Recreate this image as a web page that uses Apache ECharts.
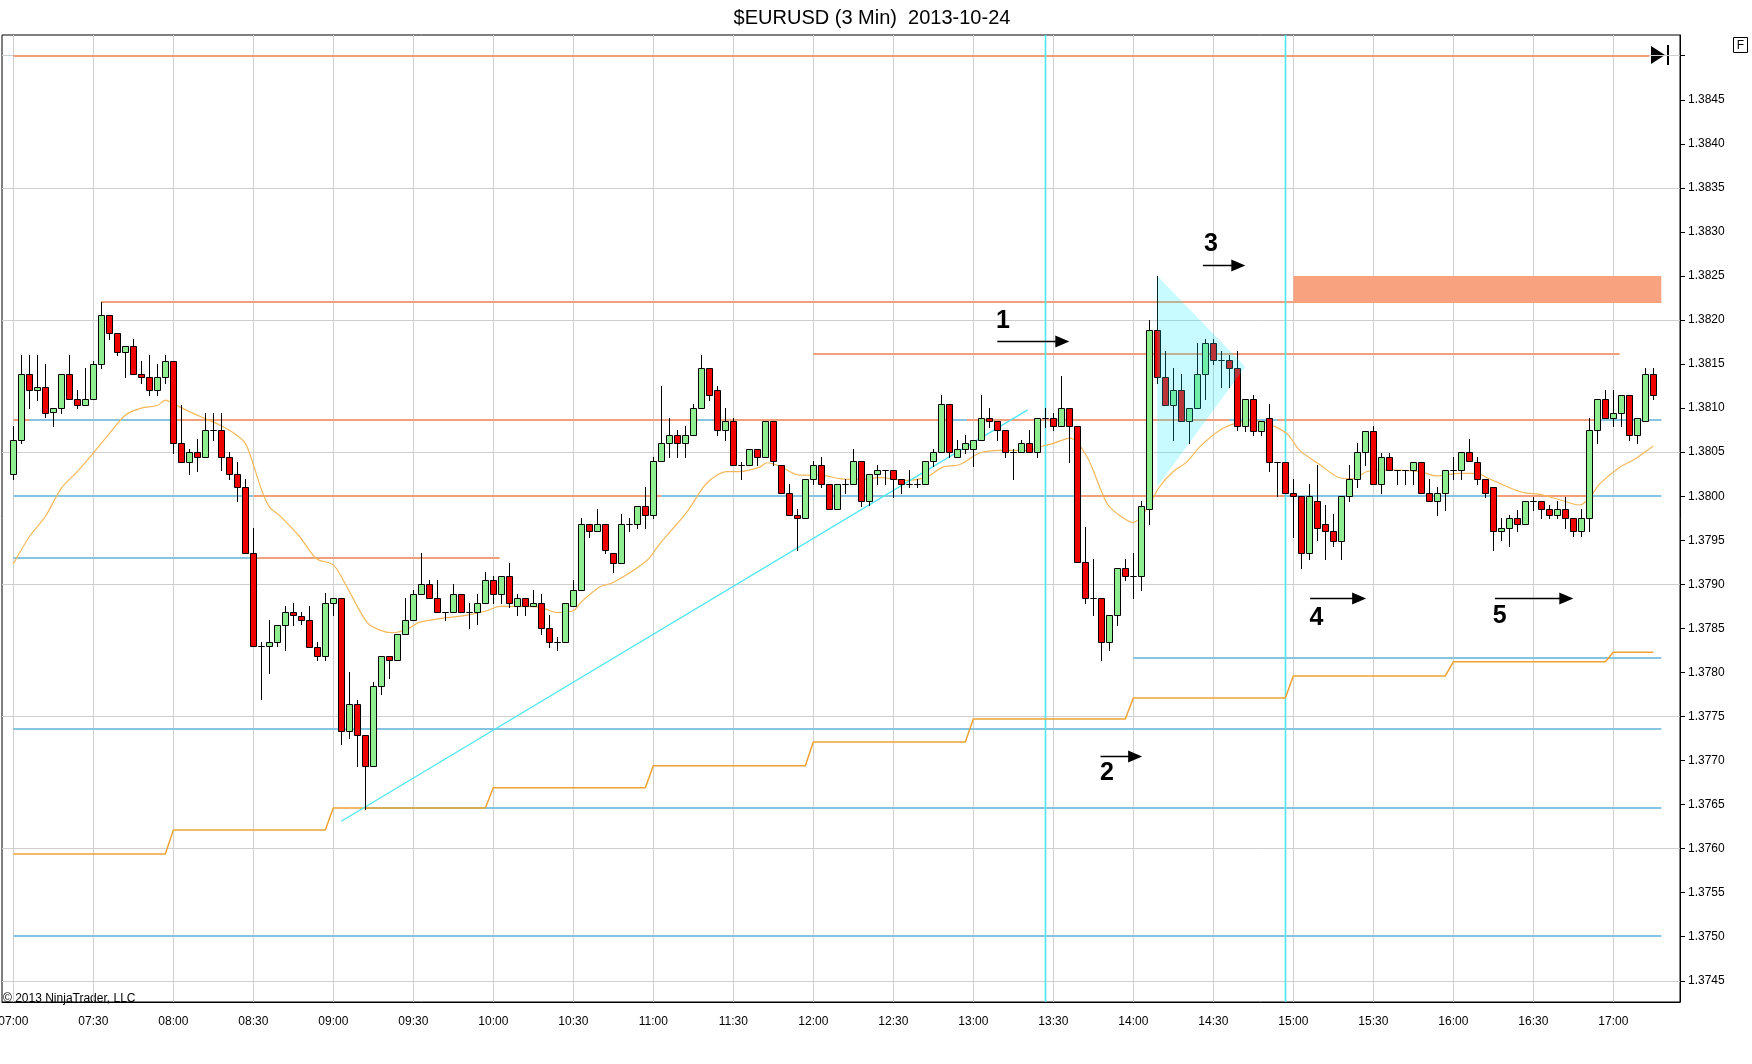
<!DOCTYPE html>
<html><head><meta charset="utf-8">
<script src="https://cdn.jsdelivr.net/npm/echarts@6/dist/echarts.min.js"></script>
<style>html,body{margin:0;padding:0;background:#fff}#main{width:1752px;height:1064px}</style>
</head><body><div id="main"></div>
<script>
// ---------------- data ----------------
const timeLabels = ['07:00','07:30','08:00','08:30','09:00','09:30','10:00','10:30','11:00','11:30','12:00','12:30','13:00','13:30','14:00','14:30','15:00','15:30','16:00','16:30','17:00'];
const gridBars = [0,10,20,30,40,50,60,70,80,90,100,110,120,130,140,150,160,170,180,190,200];
const priceTicks = [1.3745,1.3750,1.3755,1.3760,1.3765,1.3770,1.3775,1.3780,1.3785,1.3790,1.3795,1.3800,1.3805,1.3810,1.3815,1.3820,1.3825,1.3830,1.3835,1.3840,1.3845,1.3850];
const priceLabels = [1.3745,1.3750,1.3755,1.3760,1.3765,1.3770,1.3775,1.3780,1.3785,1.3790,1.3795,1.3800,1.3805,1.3810,1.3815,1.3820,1.3825,1.3830,1.3835,1.3840,1.3845];
const priceGrid = [1.3745,1.3760,1.3775,1.3790,1.3805,1.3820,1.3835,1.3850];

const opens = [
1.38025,1.38064,1.38139,1.38120,1.38124,1.38096,1.38100,1.38139,1.38110,1.38104,
1.38110,1.38150,1.38206,1.38185,1.38164,1.38170,1.38139,1.38135,1.38120,1.38135,
1.38154,1.38060,1.38039,1.38050,1.38045,1.38075,1.38075,1.38045,1.38025,1.38010,
1.37935,1.37830,1.37830,1.37835,1.37854,1.37869,1.37864,1.37860,1.37829,1.37819,
1.37879,1.37885,1.37734,1.37764,1.37729,1.37694,1.37785,1.37819,1.37814,1.37844,
1.37860,1.37889,1.37900,1.37885,1.37869,1.37869,1.37889,1.37869,1.37869,1.37879,
1.37905,1.37889,1.37910,1.37875,1.37885,1.37875,1.37879,1.37850,1.37835,1.37835,
1.37875,1.37894,1.37969,1.37960,1.37969,1.37935,1.37924,1.37969,1.37969,1.37989,
1.37979,1.38040,1.38060,1.38070,1.38060,1.38070,1.38100,1.38145,1.38120,1.38075,
1.38085,1.38035,1.38035,1.38054,1.38045,1.38085,1.38035,1.38004,1.37979,1.37975,
1.38020,1.38035,1.38014,1.37985,1.38014,1.38014,1.38040,1.37995,1.38025,1.38030,
1.38030,1.38020,1.38014,1.38014,1.38014,1.38040,1.38050,1.38105,1.38045,1.38054,
1.38054,1.38064,1.38089,1.38085,1.38075,1.38050,1.38050,1.38060,1.38050,1.38089,
1.38089,1.38080,1.38100,1.38080,1.37925,1.37885,1.37885,1.37835,1.37865,1.37919,
1.37910,1.37910,1.37985,1.38189,1.38135,1.38104,1.38120,1.38085,1.38100,1.38139,
1.38174,1.38155,1.38155,1.38145,1.38080,1.38110,1.38074,1.38089,1.38039,1.38039,
1.38004,1.38000,1.37935,1.37995,1.37969,1.37960,1.37949,1.38000,1.38020,1.38050,
1.38074,1.38014,1.38045,1.38030,1.38030,1.38030,1.38039,1.38004,1.37995,1.38004,
1.38030,1.38030,1.38050,1.38039,1.38020,1.38010,1.37960,1.37964,1.37975,1.37969,
1.37995,1.37995,1.37985,1.37979,1.37985,1.37975,1.37960,1.37975,1.38075,1.38110,
1.38089,1.38095,1.38115,1.38070,1.38085,1.38139];
const highs = [
1.38080,1.38160,1.38160,1.38160,1.38150,1.38100,1.38139,1.38160,1.38120,1.38145,
1.38154,1.38221,1.38206,1.38185,1.38170,1.38179,1.38154,1.38160,1.38150,1.38160,
1.38154,1.38104,1.38054,1.38065,1.38095,1.38095,1.38095,1.38050,1.38039,1.38020,
1.37964,1.37835,1.37860,1.37854,1.37875,1.37879,1.37869,1.37875,1.37835,1.37890,
1.37885,1.37885,1.37800,1.37769,1.37729,1.37789,1.37819,1.37819,1.37844,1.37885,
1.37894,1.37935,1.37905,1.37905,1.37869,1.37900,1.37889,1.37879,1.37889,1.37914,
1.37910,1.37910,1.37924,1.37889,1.37885,1.37894,1.37889,1.37865,1.37840,1.37879,
1.37905,1.37975,1.37969,1.37985,1.37969,1.37935,1.37980,1.37975,1.37989,1.38011,
1.38045,1.38125,1.38089,1.38075,1.38080,1.38105,1.38160,1.38145,1.38125,1.38100,
1.38089,1.38039,1.38054,1.38054,1.38085,1.38085,1.38035,1.38014,1.37985,1.38020,
1.38040,1.38045,1.38014,1.38014,1.38020,1.38054,1.38040,1.38025,1.38035,1.38030,
1.38030,1.38020,1.38030,1.38020,1.38040,1.38054,1.38115,1.38105,1.38064,1.38070,
1.38064,1.38115,1.38100,1.38085,1.38075,1.38054,1.38064,1.38075,1.38089,1.38100,
1.38095,1.38136,1.38100,1.38080,1.37965,1.37929,1.37885,1.37865,1.37919,1.37929,
1.37935,1.37995,1.38200,1.38250,1.38165,1.38145,1.38139,1.38100,1.38174,1.38179,
1.38179,1.38165,1.38160,1.38165,1.38110,1.38115,1.38085,1.38105,1.38039,1.38039,
1.38020,1.38000,1.38014,1.38035,1.37990,1.37980,1.38000,1.38035,1.38060,1.38074,
1.38080,1.38049,1.38049,1.38030,1.38030,1.38039,1.38039,1.38020,1.38011,1.38030,
1.38045,1.38050,1.38065,1.38045,1.38020,1.38010,1.37975,1.37979,1.37984,1.37995,
1.37999,1.37995,1.37990,1.37995,1.37999,1.37975,1.37985,1.38089,1.38110,1.38120,
1.38120,1.38115,1.38115,1.38089,1.38145,1.38145];
const lows = [
1.38020,1.38060,1.38100,1.38109,1.38090,1.38080,1.38095,1.38110,1.38100,1.38104,
1.38110,1.38145,1.38179,1.38160,1.38135,1.38139,1.38129,1.38115,1.38115,1.38129,
1.38049,1.38039,1.38025,1.38029,1.38045,1.38064,1.38030,1.38020,1.37995,1.37935,
1.37830,1.37770,1.37799,1.37830,1.37825,1.37854,1.37855,1.37829,1.37814,1.37814,
1.37865,1.37719,1.37725,1.37694,1.37645,1.37694,1.37775,1.37794,1.37814,1.37844,
1.37860,1.37889,1.37885,1.37869,1.37860,1.37869,1.37869,1.37850,1.37855,1.37879,
1.37879,1.37879,1.37874,1.37865,1.37865,1.37875,1.37844,1.37829,1.37825,1.37835,
1.37875,1.37894,1.37954,1.37960,1.37935,1.37914,1.37924,1.37960,1.37964,1.37964,
1.37975,1.38040,1.38045,1.38045,1.38045,1.38070,1.38100,1.38109,1.38070,1.38064,
1.38035,1.38020,1.38035,1.38035,1.38045,1.38035,1.38004,1.37979,1.37939,1.37975,
1.38014,1.38010,1.37985,1.37985,1.38004,1.38014,1.37989,1.37990,1.38014,1.38014,
1.37999,1.38004,1.38011,1.38011,1.38014,1.38034,1.38050,1.38045,1.38045,1.38049,
1.38034,1.38064,1.38079,1.38064,1.38045,1.38020,1.38050,1.38050,1.38045,1.38079,
1.38075,1.38080,1.38039,1.37925,1.37879,1.37865,1.37814,1.37825,1.37854,1.37905,
1.37885,1.37893,1.37969,1.38129,1.38104,1.38064,1.38085,1.38060,1.38100,1.38110,
1.38150,1.38124,1.38124,1.38075,1.38074,1.38069,1.38069,1.38029,1.38000,1.38004,
1.37954,1.37919,1.37929,1.37950,1.37929,1.37944,1.37929,1.37995,1.38010,1.38035,
1.38014,1.38004,1.38030,1.38014,1.38014,1.38014,1.38004,1.37995,1.37979,1.37984,
1.38020,1.38020,1.38040,1.38014,1.37999,1.37939,1.37950,1.37944,1.37960,1.37969,
1.37984,1.37975,1.37975,1.37975,1.37964,1.37955,1.37955,1.37960,1.38060,1.38089,
1.38080,1.38080,1.38064,1.38060,1.38085,1.38110];
const closes = [
1.38064,1.38139,1.38120,1.38124,1.38095,1.38100,1.38139,1.38110,1.38104,1.38110,
1.38150,1.38206,1.38185,1.38164,1.38170,1.38139,1.38135,1.38120,1.38135,1.38154,
1.38060,1.38039,1.38050,1.38045,1.38075,1.38075,1.38045,1.38025,1.38010,1.37935,
1.37830,1.37830,1.37835,1.37854,1.37869,1.37865,1.37860,1.37829,1.37819,1.37879,
1.37885,1.37734,1.37764,1.37729,1.37694,1.37785,1.37819,1.37814,1.37844,1.37860,
1.37889,1.37900,1.37885,1.37869,1.37869,1.37889,1.37869,1.37869,1.37879,1.37905,
1.37889,1.37910,1.37879,1.37885,1.37875,1.37879,1.37850,1.37835,1.37835,1.37879,
1.37894,1.37969,1.37960,1.37969,1.37939,1.37924,1.37969,1.37969,1.37989,1.37979,
1.38040,1.38060,1.38070,1.38060,1.38070,1.38100,1.38145,1.38115,1.38075,1.38085,
1.38035,1.38035,1.38054,1.38045,1.38085,1.38040,1.38004,1.37979,1.37975,1.38020,
1.38035,1.38014,1.37985,1.38014,1.38014,1.38040,1.37995,1.38025,1.38030,1.38030,
1.38020,1.38014,1.38014,1.38014,1.38040,1.38050,1.38105,1.38050,1.38054,1.38060,
1.38064,1.38089,1.38085,1.38075,1.38050,1.38050,1.38060,1.38050,1.38089,1.38089,
1.38080,1.38100,1.38080,1.37925,1.37885,1.37885,1.37835,1.37865,1.37919,1.37910,
1.37910,1.37989,1.38189,1.38135,1.38104,1.38120,1.38085,1.38100,1.38139,1.38174,
1.38155,1.38155,1.38145,1.38080,1.38110,1.38074,1.38085,1.38039,1.38039,1.38004,
1.38000,1.37935,1.38000,1.37964,1.37960,1.37949,1.38000,1.38020,1.38050,1.38074,
1.38014,1.38045,1.38030,1.38030,1.38030,1.38039,1.38004,1.37995,1.38004,1.38030,
1.38030,1.38050,1.38040,1.38020,1.38004,1.37960,1.37964,1.37975,1.37969,1.37995,
1.37995,1.37985,1.37979,1.37985,1.37975,1.37960,1.37975,1.38075,1.38110,1.38089,
1.38095,1.38115,1.38070,1.38089,1.38139,1.38115];

// moving average: [bar, price]
const maPoints = [[0,1.37923],[2,1.37954],[4,1.37977],[6,1.38009],[8,1.38028],[10,1.38049],[12,1.38071],[14,1.38092],[16,1.38100],[18,1.38103],[19,1.38109],[20,1.38105],[22,1.38096],[24,1.38088],[26,1.38080],[27.5,1.38072],[29,1.38060],[30,1.38036],[31,1.38008],[32,1.37988],[33.3,1.37978],[35.8,1.37954],[37.9,1.37929],[40,1.37922],[41.7,1.37897],[44.2,1.37857],[45.8,1.37848],[47.5,1.37845],[49.2,1.37849],[50.8,1.37857],[53.3,1.37861],[56.7,1.37865],[59.2,1.37870],[60.8,1.37875],[63.3,1.37875],[65.8,1.37874],[68,1.37868],[70,1.37870],[71,1.37880],[73.3,1.37897],[75,1.37902],[79.2,1.37927],[80.8,1.37946],[84.2,1.37982],[86.7,1.38015],[89.2,1.38028],[90.8,1.38028],[93.3,1.38033],[94.2,1.38038],[95.8,1.38034],[98.3,1.38024],[100.8,1.38024],[103.3,1.38020],[105.8,1.38019],[108.3,1.38021],[111.7,1.38018],[114.2,1.38022],[116.2,1.38033],[118.3,1.38036],[120.8,1.38049],[123.3,1.38052],[126.7,1.38052],[128.3,1.38056],[130,1.38060],[132.1,1.38066],[134.2,1.38045],[136.7,1.37992],[138.3,1.37978],[140,1.37970],[141.7,1.37986],[143.3,1.38011],[145,1.38028],[146.7,1.38039],[148.3,1.38056],[150.8,1.38075],[152.9,1.38083],[155,1.38086],[156.7,1.38083],[159.2,1.38071],[160.8,1.38052],[163.3,1.38036],[165.8,1.38021],[167.5,1.38020],[169.2,1.38028],[171.7,1.38030],[175.8,1.38028],[177.9,1.38023],[180.8,1.38026],[182.9,1.38026],[184.2,1.38021],[186.7,1.38011],[188.8,1.38004],[190.8,1.38002],[193.3,1.37996],[195.8,1.37990],[197.1,1.37999],[198.3,1.38014],[200.8,1.38033],[202.5,1.38041],[205,1.38057]];

// hourly stepped level (07:00 .. 17:00)
const hourlySteps = [1.37594,1.37621,1.37646,1.37669,1.37694,1.37721,1.37747,1.37771,1.37796,1.37812,1.37823];

// horizontal levels: [fromBar, toBar, price]
const orangeLevels = [[0,204.5,1.3850],[11,206,1.38221],[100,200.8,1.38161],[0,206,1.38087],[30,81,1.38000],[133,159,1.38000],[185.5,197,1.38000],[30,60.8,1.37930]];
const blueLevels = [[2,19.6,1.38087],[85.6,87.5,1.38087],[117.3,119.2,1.38087],[152,158,1.38087],[197.6,206,1.38087],[0,30,1.38000],[81,133,1.38000],[159,185.5,1.38000],[197,206,1.38000],[0,30,1.37930],[140,206,1.37816],[0,206,1.37736],[44,206,1.37646],[0,206,1.37501]];

const zoneRect = [[160,206,1.3822,1.3825]];
const trendLine = [[41,1.37631],[126.8,1.38098]];
const cyanVerticals = [[129],[159]];
const triangle = [[143,1.3825],[154,1.38147],[143,1.38011]];
const arrows = [[123.0,132.0,1.38176],[135.9,141.1,1.37705],[148.7,154.0,1.38263],[162.1,169.1,1.37884],[185.2,195.0,1.37885]];
const markerPos = [[123.7,1.38199],[136.7,1.37686],[149.7,1.38286],[162.9,1.37862],[185.8,1.37864]];
const markerText = ['1','2','3','4','5'];

// ---------------- chart ----------------
const X_MIN = -1.4125, X_MAX = 208.3375;
const Y_MIN = 1.374259, Y_MAX = 1.385235;
const FONT = 'Liberation Sans, Arial, sans-serif';
const GREEN = '#90EE90', RED = '#F00000';
const ORANGE = '#F2A07C', BLUE = '#86C4E0', CYAN = '#4EE6F0';

const candleData = opens.map((o, i) => [i, o, closes[i], lows[i], highs[i]]);

const stepPoints = [];
hourlySteps.forEach((v, k) => {
  const s = k * 20, e = Math.min(s + 19, 205);
  stepPoints.push([s, v], [e, v]);
});

function levelSeries(data, color, z) {
  return {
    type: 'custom', coordinateSystem: 'cartesian2d', xAxisIndex: 0, yAxisIndex: 0,
    silent: true, z: z, data: data, clip: true,
    renderItem: function (params, api) {
      const a = api.coord([api.value(0), api.value(2)]);
      const b = api.coord([api.value(1), api.value(2)]);
      const y = Math.round(a[1]);
      return { type: 'line', shape: { x1: a[0], y1: y, x2: b[0], y2: y }, style: { stroke: color, lineWidth: 2 } };
    }
  };
}

const chart = echarts.init(document.getElementById('main'));
chart.setOption({
  animation: false,
  backgroundColor: '#fff',
  title: {
    text: '$EURUSD (3 Min)  2013-10-24', left: 867, top: 3, textAlign: 'center',
    textStyle: { fontFamily: FONT, fontSize: 20, fontWeight: 'normal', color: '#000' }
  },
  grid: { left: 2, right: 72, top: 35, bottom: 62, show: true, borderColor: '#000', borderWidth: 1,
          outerBoundsMode: 'none', containLabel: false },
  xAxis: {
    type: 'value', min: X_MIN, max: X_MAX,
    axisLine: { show: true, onZero: false, lineStyle: { color: '#000', width: 1 } },
    axisTick: { show: false, customValues: gridBars },
    axisLabel: {
      customValues: gridBars, margin: 14, color: '#000', fontFamily: FONT, fontSize: 12,
      formatter: function (v) { return timeLabels[Math.round(v / 10)]; }
    },
    splitLine: { show: true, lineStyle: { color: '#CFCFCF', width: 1 } }
  },
  yAxis: [{
    type: 'value', position: 'right', min: Y_MIN, max: Y_MAX,
    axisLine: { show: true, onZero: false, lineStyle: { color: '#000', width: 1 } },
    axisTick: { show: true, inside: false, length: 5, customValues: priceTicks, lineStyle: { color: '#000' } },
    axisLabel: {
      customValues: priceLabels, margin: 8, color: '#000', fontFamily: FONT, fontSize: 12,
      formatter: function (v) { return v.toFixed(4); }
    },
    splitLine: { show: false }
  }, {
    type: 'value', position: 'left', min: Y_MIN, max: Y_MAX,
    axisLine: { show: false, onZero: false }, axisLabel: { show: false },
    axisTick: { show: false, customValues: priceGrid },
    splitLine: { show: true, lineStyle: { color: '#CFCFCF', width: 1 } }
  }],
  graphic: [
    { type: 'text', left: 3, top: 993, style: { text: '\u00A9 2013 NinjaTrader, LLC', font: '12px ' + FONT, fill: '#000' } },
    { type: 'rect', shape: { x: 1733.5, y: 37.5, width: 14, height: 15 }, style: { fill: '#fff', stroke: '#000', lineWidth: 1 } },
    { type: 'text', x: 1740.5, y: 45.5, style: { text: 'F', font: '12px ' + FONT, fill: '#000', align: 'center', verticalAlign: 'middle' } },
    { type: 'polygon', shape: { points: [[1651, 46], [1665, 55], [1651, 64]] }, style: { fill: '#000' } },
    { type: 'rect', shape: { x: 1667, y: 45, width: 2, height: 20 }, style: { fill: '#000' } }
  ],
  series: [
    levelSeries(orangeLevels, ORANGE, 1),
    levelSeries(blueLevels, BLUE, 1),
    {
      type: 'custom', coordinateSystem: 'cartesian2d', yAxisIndex: 0, silent: true, z: 1, data: zoneRect,
      renderItem: function (params, api) {
        const a = api.coord([api.value(0), api.value(3)]);
        const b = api.coord([api.value(1), api.value(2)]);
        return { type: 'rect', shape: { x: a[0], y: a[1], width: b[0] - a[0], height: b[1] - a[1] }, style: { fill: '#F9A27F' } };
      }
    },
    {
      type: 'custom', coordinateSystem: 'cartesian2d', yAxisIndex: 0, silent: true, z: 2, data: cyanVerticals,
      renderItem: function (params, api) {
        const p = api.coord([api.value(0), Y_MIN]);
        const cs = params.coordSys;
        const x = Math.round(p[0]) + 0.5;
        return { type: 'line', shape: { x1: x, y1: cs.y, x2: x, y2: cs.y + cs.height }, style: { stroke: CYAN, lineWidth: 1.6 } };
      }
    },
    {
      type: 'line', yAxisIndex: 0, data: stepPoints, symbol: 'none', silent: true, z: 2,
      lineStyle: { color: '#EFA232', width: 1.5 }
    },
    {
      type: 'line', yAxisIndex: 0, data: maPoints, symbol: 'none', silent: true, z: 3, smooth: 0.3,
      lineStyle: { color: '#F4B85A', width: 1.2 }
    },
    {
      type: 'line', yAxisIndex: 0, data: trendLine, symbol: 'none', silent: true, z: 3,
      lineStyle: { color: CYAN, width: 1.3 }
    },
    {
      type: 'custom', coordinateSystem: 'cartesian2d', yAxisIndex: 0, silent: true, z: 4, data: candleData, clip: true,
      renderItem: function (params, api) {
        const x = api.value(0), o = api.value(1), c = api.value(2), l = api.value(3), h = api.value(4);
        const pO = api.coord([x, o]), pC = api.coord([x, c]), pL = api.coord([x, l]), pH = api.coord([x, h]);
        const px = Math.round(pO[0]);
        const top = Math.round(Math.min(pO[1], pC[1])) + 0.5;
        const bot = Math.round(Math.max(pO[1], pC[1])) + 0.5;
        const fill = c > o ? GREEN : (c < o ? RED : '#000');
        return {
          type: 'group', children: [
            { type: 'line', shape: { x1: px + 0.5, y1: Math.round(pH[1]), x2: px + 0.5, y2: Math.round(pL[1]) + 1 }, style: { stroke: '#000', lineWidth: 1 } },
            { type: 'rect', shape: { x: px - 2.5, y: top, width: 6, height: bot - top }, style: { fill: fill, stroke: '#000', lineWidth: 1 } }
          ]
        };
      }
    },
    {
      type: 'custom', coordinateSystem: 'cartesian2d', yAxisIndex: 0, silent: true, z: 5, data: [[0]],
      renderItem: function (params, api) {
        const pts = triangle.map(function (t) { return api.coord(t); });
        return { type: 'polygon', shape: { points: pts }, style: { fill: 'rgba(0,235,255,0.22)' } };
      }
    },
    {
      type: 'custom', coordinateSystem: 'cartesian2d', yAxisIndex: 0, silent: true, z: 6, data: arrows,
      renderItem: function (params, api) {
        const a = api.coord([api.value(0), api.value(2)]);
        const b = api.coord([api.value(1), api.value(2)]);
        const y = Math.round(a[1]) + 0.5;
        return {
          type: 'group', children: [
            { type: 'line', shape: { x1: a[0], y1: y, x2: b[0] - 10, y2: y }, style: { stroke: '#000', lineWidth: 1.5 } },
            { type: 'polygon', shape: { points: [[b[0] - 14, y - 6], [b[0], y], [b[0] - 14, y + 6]] }, style: { fill: '#000' } }
          ]
        };
      }
    },
    {
      type: 'custom', coordinateSystem: 'cartesian2d', yAxisIndex: 0, silent: true, z: 6, data: markerPos,
      renderItem: function (params, api) {
        const p = api.coord([api.value(0), api.value(1)]);
        return {
          type: 'text', x: p[0], y: p[1],
          style: { text: markerText[params.dataIndex], font: 'bold 25px ' + FONT, fill: '#000', align: 'center', verticalAlign: 'middle' }
        };
      }
    }
  ]
});
</script>
</body></html>
